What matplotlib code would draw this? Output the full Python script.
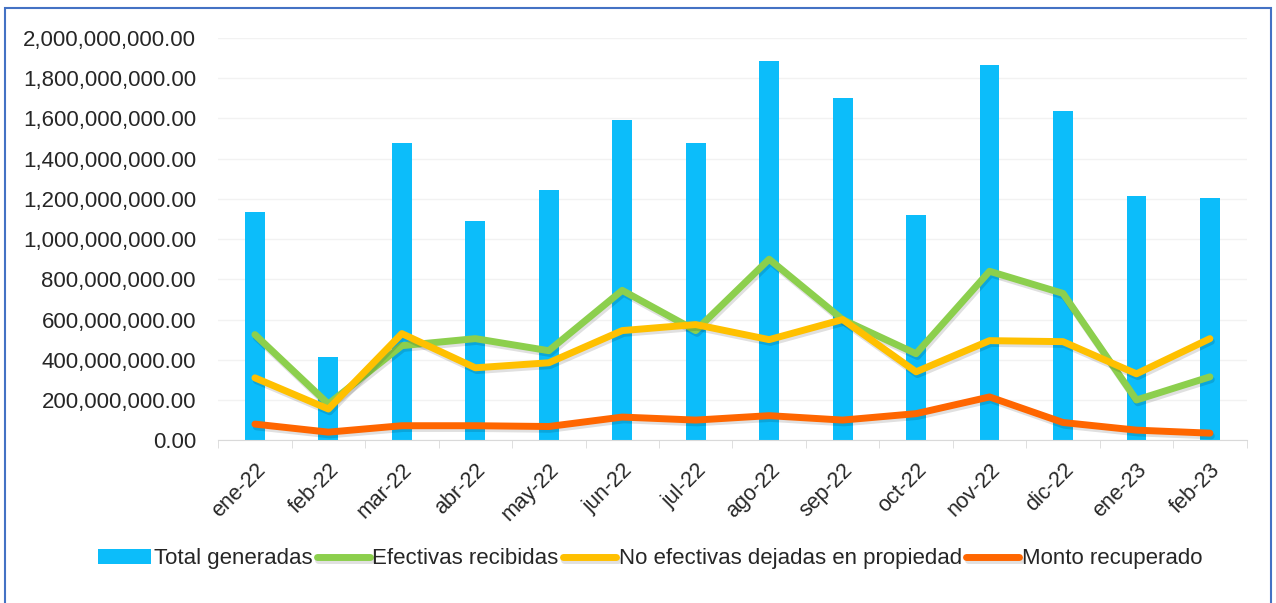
#!/usr/bin/env python3
"""
Monthly amounts: bars for total generated, lines for the three breakdowns.
"""

import numpy as np
import matplotlib
matplotlib.use("Agg")
import matplotlib.pyplot as plt
import matplotlib.patheffects as pe
from matplotlib.patches import Rectangle
from matplotlib.ticker import FuncFormatter, MultipleLocator

plt.rcParams["font.family"] = ["Liberation Sans", "DejaVu Sans"]

MONTHS = ["ene-22", "feb-22", "mar-22", "abr-22", "may-22", "jun-22", "jul-22",
          "ago-22", "sep-22", "oct-22", "nov-22", "dic-22", "ene-23", "feb-23"]

TOTAL_GENERADAS = [1135e6, 413e6, 1478e6, 1090e6, 1243e6, 1592e6, 1478e6,
                   1886e6, 1701e6, 1119e6, 1866e6, 1637e6, 1214e6, 1204e6]
EFECTIVAS = [525e6, 180e6, 470e6, 505e6, 445e6, 745e6, 545e6,
             900e6, 600e6, 430e6, 840e6, 730e6, 200e6, 315e6]
NO_EFECTIVAS = [310e6, 155e6, 530e6, 360e6, 385e6, 545e6, 575e6,
                500e6, 600e6, 340e6, 495e6, 490e6, 330e6, 505e6]
MONTO_RECUPERADO = [80e6, 40e6, 72e6, 72e6, 68e6, 115e6, 100e6,
                    122e6, 100e6, 132e6, 215e6, 88e6, 50e6, 35e6]

C_BAR = "#0cbdfa"
C_GREEN = "#8ccf4d"
C_YELLOW = "#ffc000"
C_ORANGE = "#ff6600"
C_TEXT = "#262626"


def main() -> int:
    fig = plt.figure(figsize=(12.76, 6.03), dpi=100)
    ax = fig.add_axes([0.171, 0.270, 0.806, 0.667])

    x = np.arange(len(MONTHS))
    bars = ax.bar(x, TOTAL_GENERADAS, width=0.27, color=C_BAR, label="Total generadas", zorder=2)
    handles = [bars]

    # soft drop shadow like the spreadsheet lines
    shadow = [pe.SimpleLineShadow(offset=(1.0, -2.0), shadow_color="black", alpha=0.12, rho=1.0),
              pe.Normal()]
    for vals, col, lab in [(EFECTIVAS, C_GREEN, "Efectivas recibidas"),
                           (NO_EFECTIVAS, C_YELLOW, "No efectivas dejadas en propiedad"),
                           (MONTO_RECUPERADO, C_ORANGE, "Monto recuperado")]:
        ln, = ax.plot(x, vals, color=col, linewidth=5, label=lab, zorder=3,
                      solid_joinstyle="round", solid_capstyle="round", path_effects=shadow)
        handles.append(ln)

    ax.set_xlim(-0.5, len(MONTHS) - 0.5)
    ax.set_ylim(0, 2e9)
    ax.yaxis.set_major_locator(MultipleLocator(2e8))
    ax.yaxis.set_major_formatter(FuncFormatter(lambda v, _: f"{v:,.2f}"))
    ax.grid(axis="y", color="#f2f2f2", linewidth=1.0, zorder=0)
    ax.set_axisbelow(True)

    for s in ["top", "right", "left"]:
        ax.spines[s].set_visible(False)
    ax.spines["bottom"].set_color("#d9d9d9")

    ax.set_xticks(x)
    ax.set_xticklabels(MONTHS, rotation=45, ha="right", va="top", rotation_mode="anchor",
                       fontsize=15.5, color=C_TEXT)
    ax.tick_params(axis="x", length=0, pad=14)
    ax.set_xticks(np.arange(len(MONTHS) + 1) - 0.5, minor=True)
    ax.tick_params(axis="x", which="minor", length=6, color="#d9d9d9")
    ax.tick_params(axis="y", length=0, labelsize=16, labelcolor=C_TEXT, pad=16)

    ax.legend(handles=handles, loc="center", bbox_to_anchor=(0.42, -0.295), ncol=4,
              frameon=False, fontsize=16, handlelength=2.4, handleheight=0.6,
              handletextpad=0.1, columnspacing=0.2, labelcolor=C_TEXT)

    fig.patches.append(Rectangle((0.004, -0.01), 0.992, 0.997, transform=fig.transFigure,
                                 fill=False, edgecolor="#4472c4", linewidth=1.5))

    fig.savefig("out.png", dpi=100)
    plt.close(fig)
    return 0


if __name__ == "__main__":
    raise SystemExit(main())
